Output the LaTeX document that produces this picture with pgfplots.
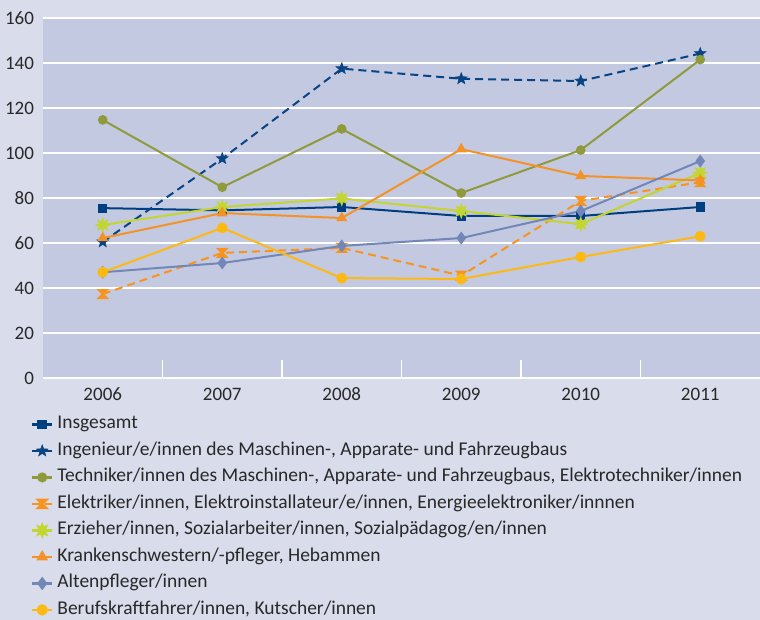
\documentclass[border=0pt]{standalone}
\usepackage{pgfplots}
\pgfplotsset{compat=1.18}
\usepackage{fontspec}
\setmainfont{Carlito}
\definecolor{pagebg}{RGB}{217,220,235}
\definecolor{plotbg}{RGB}{196,201,226}
\definecolor{cIns}{RGB}{0,63,127}
\definecolor{cIng}{RGB}{8,68,132}
\definecolor{cTech}{RGB}{143,154,60}
\definecolor{cElek}{RGB}{247,148,29}
\definecolor{cErz}{RGB}{194,213,48}
\definecolor{cKra}{RGB}{243,146,38}
\definecolor{cAlt}{RGB}{114,134,184}
\definecolor{cBer}{RGB}{253,185,19}
\definecolor{txt}{RGB}{40,40,40}
\pgfdeclareplotmark{hourglass}{%
  \pgfpathmoveto{\pgfqpoint{-\pgfplotmarksize}{\pgfplotmarksize}}%
  \pgfpathlineto{\pgfqpoint{\pgfplotmarksize}{\pgfplotmarksize}}%
  \pgfpathlineto{\pgfqpoint{-\pgfplotmarksize}{-\pgfplotmarksize}}%
  \pgfpathlineto{\pgfqpoint{\pgfplotmarksize}{-\pgfplotmarksize}}%
  \pgfpathclose\pgfusepathqfillstroke}
\pgfdeclareplotmark{fstar}{%
  \pgfpathmoveto{\pgfpointpolar{90}{\pgfplotmarksize}}%
  \pgfpathlineto{\pgfpointpolar{126}{0.42\pgfplotmarksize}}%
  \pgfpathlineto{\pgfpointpolar{162}{\pgfplotmarksize}}%
  \pgfpathlineto{\pgfpointpolar{198}{0.42\pgfplotmarksize}}%
  \pgfpathlineto{\pgfpointpolar{234}{\pgfplotmarksize}}%
  \pgfpathlineto{\pgfpointpolar{270}{0.42\pgfplotmarksize}}%
  \pgfpathlineto{\pgfpointpolar{306}{\pgfplotmarksize}}%
  \pgfpathlineto{\pgfpointpolar{342}{0.42\pgfplotmarksize}}%
  \pgfpathlineto{\pgfpointpolar{18}{\pgfplotmarksize}}%
  \pgfpathlineto{\pgfpointpolar{54}{0.42\pgfplotmarksize}}%
  \pgfpathclose\pgfusepathqfillstroke}
\pgfdeclareplotmark{burst}{%
  \pgfpathmoveto{\pgfpointpolar{90}{\pgfplotmarksize}}%
  \pgfpathlineto{\pgfpointpolar{112.5}{0.5\pgfplotmarksize}}%
  \pgfpathlineto{\pgfpointpolar{135}{\pgfplotmarksize}}%
  \pgfpathlineto{\pgfpointpolar{157.5}{0.5\pgfplotmarksize}}%
  \pgfpathlineto{\pgfpointpolar{180}{\pgfplotmarksize}}%
  \pgfpathlineto{\pgfpointpolar{202.5}{0.5\pgfplotmarksize}}%
  \pgfpathlineto{\pgfpointpolar{225}{\pgfplotmarksize}}%
  \pgfpathlineto{\pgfpointpolar{247.5}{0.5\pgfplotmarksize}}%
  \pgfpathlineto{\pgfpointpolar{270}{\pgfplotmarksize}}%
  \pgfpathlineto{\pgfpointpolar{292.5}{0.5\pgfplotmarksize}}%
  \pgfpathlineto{\pgfpointpolar{315}{\pgfplotmarksize}}%
  \pgfpathlineto{\pgfpointpolar{337.5}{0.5\pgfplotmarksize}}%
  \pgfpathlineto{\pgfpointpolar{0}{\pgfplotmarksize}}%
  \pgfpathlineto{\pgfpointpolar{22.5}{0.5\pgfplotmarksize}}%
  \pgfpathlineto{\pgfpointpolar{45}{\pgfplotmarksize}}%
  \pgfpathlineto{\pgfpointpolar{67.5}{0.5\pgfplotmarksize}}%
  \pgfpathclose\pgfusepathqfillstroke}
\begin{document}
\begin{tikzpicture}
\path[use as bounding box, fill=pagebg] (-21.5pt,-121pt) rectangle (358.5pt,189pt);
\begin{axis}[
  at={(0,0)}, anchor=south west,
  width=358.5pt, height=180pt, scale only axis,
  xmin=2005.5, xmax=2011.5, ymin=0, ymax=160,
  axis background/.style={fill=plotbg},
  axis line style={draw=none},
  xtick={2006,2007,2008,2009,2010,2011},
  xticklabels={2006,2007,2008,2009,2010,2011},
  ytick={0,20,40,60,80,100,120,140,160},
  ymajorgrids, grid style={white, line width=0.9pt},
  major tick length=0pt,
  xtick pos=bottom, ytick pos=left,
  extra x ticks={2006.5,2007.5,2008.5,2009.5,2010.5},
  extra x tick labels={},
  extra x tick style={grid=none, major tick length=9pt, tick style={white, line width=0.9pt}},
  /pgf/number format/assume math mode=true,
  ticklabel style={font=\fontsize{9.5}{11}\selectfont, text=txt},
  yticklabel style={inner sep=0pt, xshift=-4pt},
  xticklabel style={inner sep=0pt, yshift=-4.5pt},
  line width=1pt,
  legend cell align=left,
  legend style={at={(axis description cs:-0.0181,-0.097)}, anchor=north west,
    draw=none, fill=none, inner sep=0pt, row sep=2.75pt,
    nodes={inner sep=1pt, text height=6.5pt, text depth=2pt, text=txt},
    /tikz/every odd column/.append style={column sep=1pt},
    font=\fontsize{9.75}{11}\selectfont},
  legend image code/.code={%
    \draw[mark repeat=2,mark phase=2,#1,line width=1.2pt] plot coordinates {(0pt,0pt) (5pt,0pt) (10pt,0pt)};},
]
\addplot[color=cIns, mark=square*, mark size=1.8pt, mark options={solid}] coordinates {(2006,75.5) (2007,74.5) (2008,76) (2009,72) (2010,72) (2011,76)};
\addlegendentry{Insgesamt}
\addplot[color=cIng, dash pattern=on 4pt off 2.5pt, mark=fstar, mark size=3pt, mark options={solid, fill=cIng, line width=0.3pt}] coordinates {(2006,60.5) (2007,97.5) (2008,137.5) (2009,133) (2010,132) (2011,144.2)};
\addlegendentry{Ingenieur/e/innen des Maschinen-, Apparate- und Fahrzeugbaus}
\addplot[color=cTech, mark=*, mark size=1.9pt, mark options={solid}] coordinates {(2006,114.7) (2007,84.8) (2008,110.7) (2009,82.2) (2010,101.3) (2011,141.5)};
\addlegendentry{Techniker/innen des Maschinen-, Apparate- und Fahrzeugbaus, Elektrotechniker/innen}
\addplot[color=cElek, dash pattern=on 4pt off 2.5pt, mark=hourglass, mark size=2pt, mark options={solid}] coordinates {(2006,37.3) (2007,55.6) (2008,57.8) (2009,45.5) (2010,78.7) (2011,87)};
\addlegendentry{Elektriker/innen, Elektroinstallateur/e/innen, Energieelektroniker/innnen}
\addplot[color=cErz, mark=burst, mark size=2.6pt, mark options={solid}] coordinates {(2006,68) (2007,76) (2008,79.8) (2009,74.2) (2010,68.4) (2011,91.2)};
\addlegendentry{Erzieher/innen, Sozialarbeiter/innen, Sozialpädagog/en/innen}
\addplot[color=cKra, mark=triangle*, mark size=2.2pt, mark options={solid}] coordinates {(2006,62.2) (2007,73.3) (2008,71.1) (2009,101.7) (2010,89.8) (2011,87.8)};
\addlegendentry{Krankenschwestern/-pfleger, Hebammen}
\addplot[color=cAlt, mark=diamond*, mark size=2.4pt, mark options={solid}] coordinates {(2006,47) (2007,51.1) (2008,58.7) (2009,62.2) (2010,74.2) (2011,96.4)};
\addlegendentry{Altenpfleger/innen}
\addplot[color=cBer, mark=*, mark size=2.2pt, mark options={solid}] coordinates {(2006,47) (2007,66.7) (2008,44.4) (2009,44) (2010,53.8) (2011,63)};
\addlegendentry{Berufskraftfahrer/innen, Kutscher/innen}
\end{axis}
\end{tikzpicture}
\end{document}
